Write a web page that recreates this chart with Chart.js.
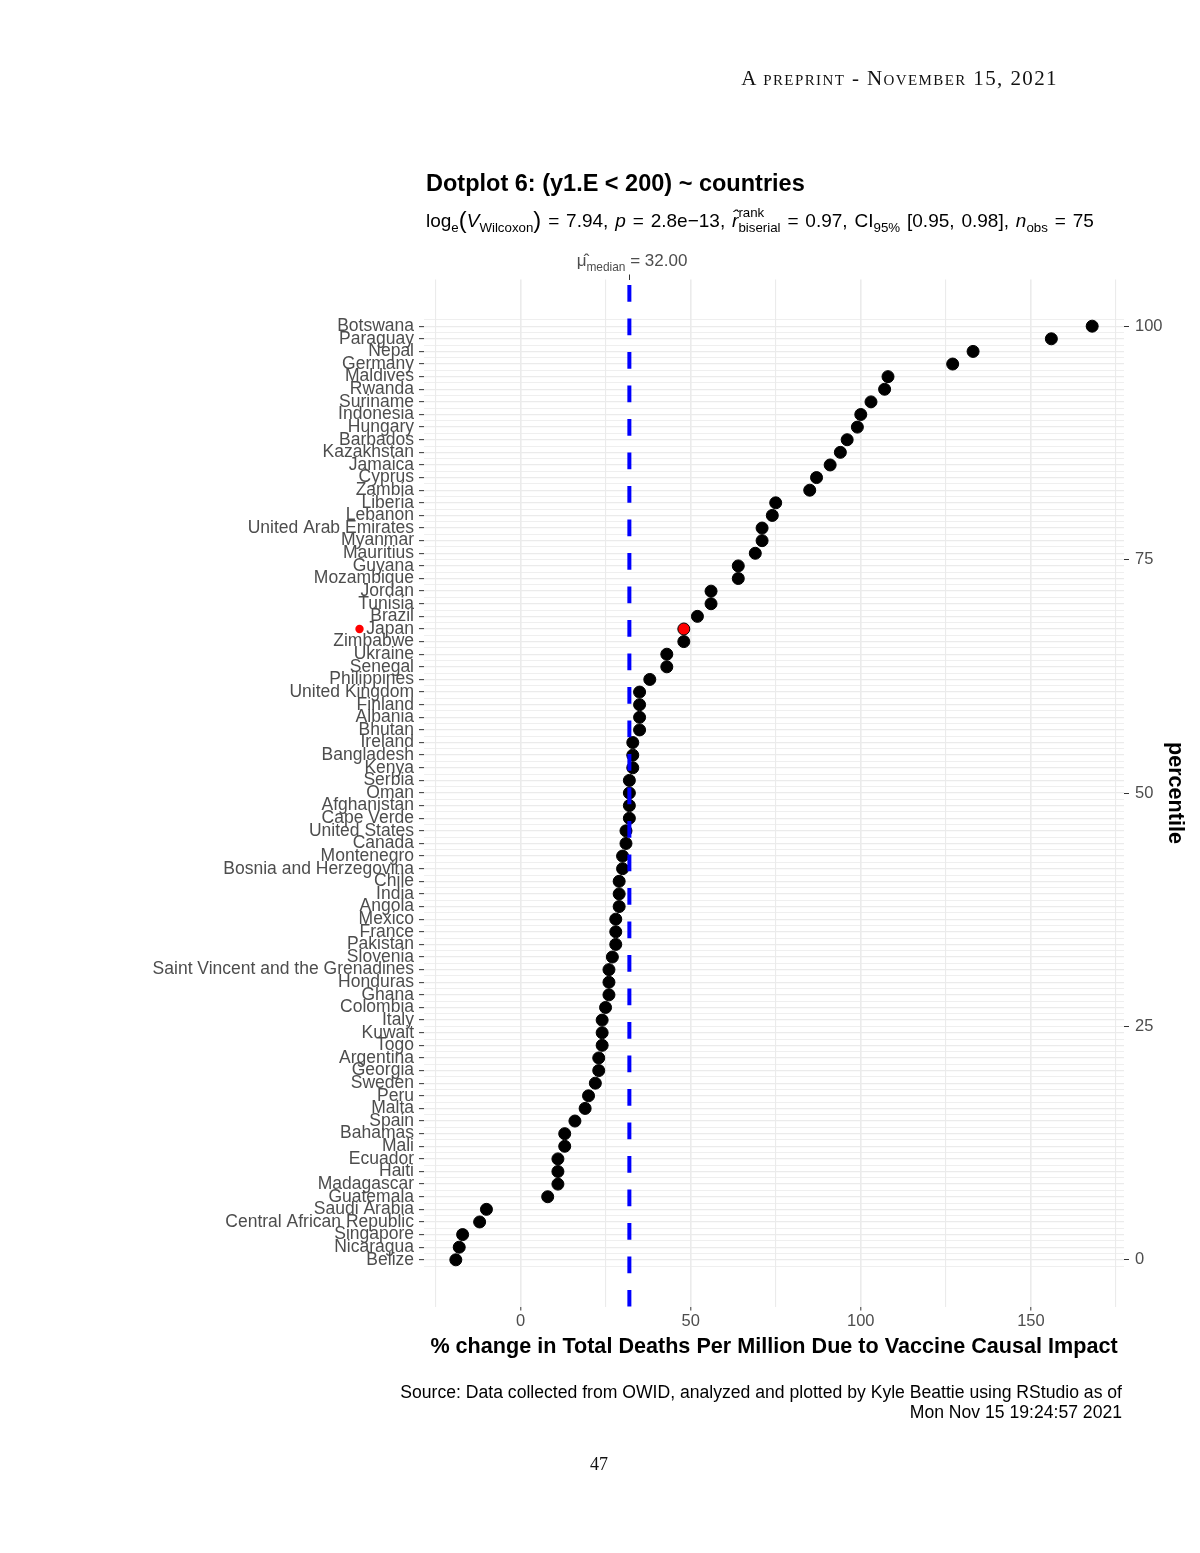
<!DOCTYPE html>
<html><head><meta charset="utf-8">
<script src="https://cdn.jsdelivr.net/npm/chart.js@4.4.0/dist/chart.umd.min.js"></script>
<style>
html,body{margin:0;padding:0;background:#fff;}
body{width:1200px;height:1553px;position:relative;overflow:hidden;font-family:"Liberation Sans",Arial,sans-serif;}
#c{position:absolute;left:0;top:0;}
.t{position:absolute;white-space:nowrap;}
#hdr{right:142px;top:66px;font-family:"Liberation Serif","DejaVu Serif",serif;font-size:21px;line-height:25px;font-variant:small-caps;letter-spacing:1.4px;color:#111;}
#pg{left:599px;top:1454px;transform:translateX(-50%);font-family:"Liberation Serif","DejaVu Serif",serif;font-size:18px;line-height:21.6px;color:#111;}
#title{left:426px;top:169px;font-size:23.5px;line-height:28px;font-weight:bold;color:#000;}
#sub{left:426px;top:208px;font-size:19px;line-height:22.8px;word-spacing:1.6px;color:#000;}
.sb{font-size:70%;position:relative;top:0.38em;word-spacing:0;}
.par{font-size:125%;position:relative;top:0.04em;}
.stk{display:inline-block;position:relative;font-size:70%;word-spacing:0;}
.stk .dn{position:relative;top:0.4em;}
.stk .up{position:absolute;left:0;top:-0.75em;}
#med{left:632px;top:251px;transform:translateX(-50%);font-size:17px;line-height:20px;color:#4d4d4d;}
#src{right:78px;top:1383px;font-size:17.6px;line-height:19.5px;text-align:right;color:#000;}
</style></head><body>
<canvas id="c" width="1200" height="1553"></canvas>
<div class="t" id="hdr">A preprint - November 15, 2021</div>
<div class="t" id="title">Dotplot 6: (y1.E &lt; 200) ~ countries</div>
<div class="t" id="sub">log<span class="sb">e</span><span class="par">(</span><i>V</i><span class="sb">Wilcoxon</span><span class="par">)</span> = 7.94, <i>p</i> = 2.8e−13, <i>r&#770;</i><span class="stk"><span class="dn">biserial</span><span class="up">rank</span></span> = 0.97, CI<span class="sb">95%</span> [0.95, 0.98], <i>n</i><span class="sb">obs</span> = 75</div>
<div class="t" id="med">μ&#770;<span class="sb">median</span> = 32.00</div>
<div class="t" id="src">Source: Data collected from OWID, analyzed and plotted by Kyle Beattie using RStudio as of<br>Mon Nov 15 19:24:57 2021</div>
<div class="t" id="pg">47</div>
<script>
// ---- data (top to bottom as shown) ----
const countries = ["Botswana","Paraguay","Nepal","Germany","Maldives","Rwanda","Suriname","Indonesia","Hungary","Barbados",
"Kazakhstan","Jamaica","Cyprus","Zambia","Liberia","Lebanon","United Arab Emirates","Myanmar","Mauritius","Guyana",
"Mozambique","Jordan","Tunisia","Brazil","Japan","Zimbabwe","Ukraine","Senegal","Philippines","United Kingdom",
"Finland","Albania","Bhutan","Ireland","Bangladesh","Kenya","Serbia","Oman","Afghanistan","Cape Verde",
"United States","Canada","Montenegro","Bosnia and Herzegovina","Chile","India","Angola","Mexico","France","Pakistan",
"Slovenia","Saint Vincent and the Grenadines","Honduras","Ghana","Colombia","Italy","Kuwait","Togo","Argentina","Georgia",
"Sweden","Peru","Malta","Spain","Bahamas","Mali","Ecuador","Haiti","Madagascar","Guatemala",
"Saudi Arabia","Central African Republic","Singapore","Nicaragua","Belize"];
const values = [168,156,133,127,108,107,103,100,99,96,
94,91,87,85,75,74,71,71,69,64,
64,56,56,52,48,48,43,43,38,35,
35,35,35,33,33,33,32,32,32,32,
31,31,30,30,29,29,29,28,28,28,
27,26,26,26,25,24,24,24,23,23,
22,20,19,16,13,13,11,11,11,8,
-10,-12,-17,-18,-19];
const medianValue = 32;
const xTicks = [-25,0,25,50,75,100,125,150,175];
const xLabelled = [0,50,100,150];
const percentileTicks = [0,25,50,75,100];
const highlightCountry = "Japan";
const highlightMarkerX = -47.3;
const xTitle = "% change in Total Deaths Per Million Due to Vaccine Causal Impact";
const yRightTitle = "percentile";

// ---- derived ----
const n = countries.length;
const rowOf = i => n - 1 - i;
const dMin = Math.min(...values), dMax = Math.max(...values);
const xMin = dMin - 0.05*(dMax-dMin), xMax = dMax + 0.05*(dMax-dMin);
const yMin = -0.05*(n-1), yMax = (n-1)*1.05;
const rowTicks = [];
for (let v = -0.5; v <= n - 0.5 + 1e-9; v += 0.5) rowTicks.push(v);

const points = values.map((v,i)=>({x:v, y:rowOf(i)}));
const pointColors = countries.map(c => c === highlightCountry ? '#ff0000' : '#000000');
const hiIdx = countries.indexOf(highlightCountry);

const overlay = {
  id:'overlay',
  afterDatasetsDraw(chart){
    const {ctx, chartArea, scales} = chart;
    const x = scales.x.getPixelForValue(medianValue);
    ctx.save();
    ctx.strokeStyle = '#0000ff';
    ctx.lineWidth = 4;
    ctx.setLineDash([16.7,16.8]);
    ctx.lineDashOffset = 28;
    ctx.beginPath();
    ctx.moveTo(x, chartArea.top);
    ctx.lineTo(x, chartArea.bottom);
    ctx.stroke();
    ctx.setLineDash([]);
    // highlight marker beside the highlighted country's label
    const mx = scales.x.getPixelForValue(highlightMarkerX);
    const my = scales.y.getPixelForValue(rowOf(hiIdx));
    ctx.fillStyle = '#ff0000';
    ctx.beginPath();
    ctx.arc(mx, my, 4.2, 0, Math.PI*2);
    ctx.fill();
    ctx.restore();
  }
};

const isInt = v => Math.abs(v - Math.round(v)) < 1e-6;

new Chart(document.getElementById('c'), {
  type:'scatter',
  data:{datasets:[
    {data:points, backgroundColor:pointColors, borderColor:'#000', borderWidth:1, pointRadius:6, pointHoverRadius:6}
  ]},
  options:{
    responsive:false, animation:false, devicePixelRatio:1,
    layout:{padding:{left:0,right:0,top:274.5,bottom:193}},
    plugins:{legend:{display:false}, tooltip:{enabled:false}},
    scales:{
      x:{type:'linear', position:'bottom', min:xMin, max:xMax,
        afterBuildTicks:s=>{s.ticks = xTicks.map(v=>({value:v}));},
        ticks:{autoSkip:false, maxRotation:0, padding:1, color:'#4d4d4d', font:{family:'Liberation Sans', size:16.5},
          callback:v=> xLabelled.includes(v) ? String(v) : ''},
        grid:{color:'#ebebeb', lineWidth:c=> xLabelled.includes(c.tick.value)?1.6:1.1, tickLength:4,
          tickColor:c=> xLabelled.includes(c.tick.value)?'#333':'rgba(0,0,0,0)', tickWidth:1},
        border:{display:false},
        title:{display:true, text:xTitle, color:'#000', font:{family:'Liberation Sans', size:21.6, weight:'bold'}, padding:0},
        afterFit:s=>{s.height = 53.5;}
      },
      x2:{type:'linear', position:'top', min:xMin, max:xMax,
        afterBuildTicks:s=>{s.ticks = [{value:medianValue}];},
        ticks:{callback:()=>'', padding:0},
        grid:{drawOnChartArea:false, tickLength:5, tickColor:'#333', tickWidth:1},
        border:{display:false},
        afterFit:s=>{s.height = 5;}
      },
      y:{type:'linear', position:'left', min:yMin, max:yMax,
        afterBuildTicks:s=>{s.ticks = rowTicks.map(v=>({value:v}));},
        ticks:{autoSkip:false, padding:5, color:'#4d4d4d', font:{family:'Liberation Sans', size:17.5},
          callback:v=> (isInt(v) && v>=0 && v<=n-1) ? countries[n-1-Math.round(v)] : ''},
        grid:{color:'#ebebeb', lineWidth:c=> isInt(c.tick.value)?1.3:0.8, tickLength:5,
          tickColor:c=> (isInt(c.tick.value) && c.tick.value>=0 && c.tick.value<=n-1)?'#333':'rgba(0,0,0,0)', tickWidth:1},
        border:{display:false},
        afterFit:s=>{s.width = 424;}
      },
      y2:{type:'linear', position:'right', min:-5, max:105,
        afterBuildTicks:s=>{s.ticks = percentileTicks.map(v=>({value:v}));},
        ticks:{padding:6, color:'#4d4d4d', font:{family:'Liberation Sans', size:16.5}},
        grid:{drawOnChartArea:false, tickLength:5, tickColor:'#333', tickWidth:1},
        border:{display:false},
        title:{display:true, text:yRightTitle, color:'#000', font:{family:'Liberation Sans', size:21.6, weight:'bold'}, padding:{top:12, bottom:0}},
        afterFit:s=>{s.width = 76;}
      }
    }
  },
  plugins:[overlay]
});
</script>
</body></html>
